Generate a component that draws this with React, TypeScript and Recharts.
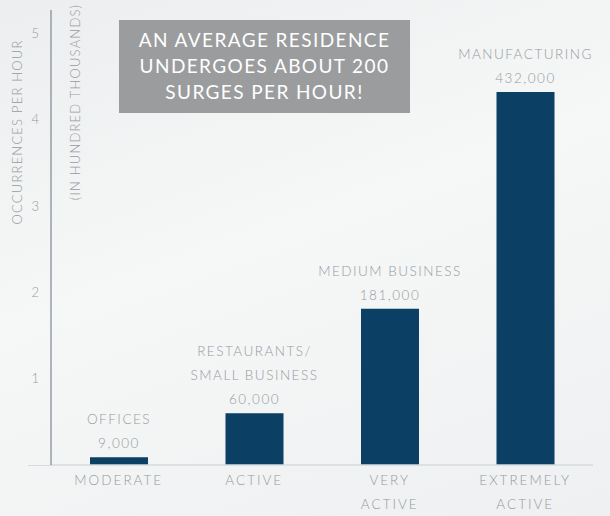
import { Bar, BarChart, LabelList, XAxis, YAxis } from "recharts";

const activityLevels = [["MODERATE"], ["ACTIVE"], ["VERY", "ACTIVE"], ["EXTREMELY", "ACTIVE"]];
const businessTypes = [["OFFICES"], ["RESTAURANTS/", "SMALL BUSINESS"], ["MEDIUM BUSINESS"], ["MANUFACTURING"]];
// occurrences per hour, in hundred thousands
const surgeValues = [0.09, 0.6, 1.81, 4.32];
const surgeLabels = ["9,000", "60,000", "181,000", "432,000"];
const yTicks = [1, 2, 3, 4, 5];
const calloutLines = ["AN AVERAGE RESIDENCE", "UNDERGOES ABOUT 200", "SURGES PER HOUR!"];

const data = activityLevels.map((lines, i) => ({
  key: String(i),
  level: lines,
  business: businessTypes[i],
  value: surgeValues[i],
  label: surgeLabels[i],
}));

const GREY = "#959ba1";
const NAVY = "#0b3f63";
const FONT = "Lato, 'Open Sans', sans-serif";

function LevelTick(props: any) {
  const { x, y, payload } = props;
  const lines = data[payload.index]?.level ?? [];
  return (
    <g>
      {lines.map((line: string, i: number) => (
        <text key={i} x={x} y={y + 12 + i * 24} textAnchor="middle" fill={GREY} fontSize={13.5} fontFamily={FONT} fontWeight={300} letterSpacing={2}>
          {line}
        </text>
      ))}
    </g>
  );
}

function BarTopLabel(props: any) {
  const { x, y, width, index } = props;
  const row = data[index];
  const cx = x + width / 2;
  const lines = [...row.business, row.label];
  return (
    <g>
      {lines.map((line, i) => (
        <text
          key={i}
          x={cx}
          y={y - 9 - (lines.length - 1 - i) * 24}
          textAnchor="middle"
          fill={GREY}
          fontSize={13.5}
          fontFamily={FONT}
          fontWeight={300}
          letterSpacing={1.5}
        >
          {line}
        </text>
      ))}
    </g>
  );
}

function AxisTitles(props: any) {
  const { viewBox } = props;
  const top = viewBox.y;
  return (
    <g fontFamily={FONT} fontWeight={300} fontSize={13} fill={GREY} letterSpacing={1.2}>
      <text x={17} y={top + 122} textAnchor="middle" dominantBaseline="central" transform={`rotate(-90 17 ${top + 122})`}>
        OCCURRENCES PER HOUR
      </text>
      <text x={75} y={top + 92} textAnchor="middle" dominantBaseline="central" transform={`rotate(-90 75 ${top + 92})`}>
        (IN HUNDRED THOUSANDS)
      </text>
    </g>
  );
}

export default function App() {
  return (
    <div
      style={{
        position: "absolute",
        left: 0,
        top: 0,
        width: 610,
        height: 516,
        background: "linear-gradient(160deg, #eceeef 0%, #f6f7f7 45%, #eef0f1 100%)",
        overflow: "hidden",
      }}
    >
      <div style={{ position: "absolute", left: 28, top: 465, width: 24, height: 1, background: "#d6dbdf" }} />
      <BarChart width={610} height={516} data={data} margin={{ top: 10, right: 17, bottom: 0, left: 0 }}>
        <XAxis
          dataKey="key"
          height={51}
          tickLine={false}
          axisLine={{ stroke: "#d6dbdf", strokeWidth: 1.5 }}
          tick={<LevelTick />}
          interval={0}
        />
        <YAxis
          width={51}
          domain={[0, 5.27]}
          ticks={yTicks}
          tickLine={false}
          axisLine={{ stroke: "#7e8891", strokeWidth: 1.2 }}
          tick={{ fill: GREY, fontSize: 13, fontFamily: FONT, fontWeight: 300 }}
          tickMargin={6}
          label={<AxisTitles />}
        />
        <Bar dataKey="value" fill={NAVY} barSize={58} isAnimationActive={false}>
          <LabelList dataKey="label" content={<BarTopLabel />} />
        </Bar>
      </BarChart>
      <div
        style={{
          position: "absolute",
          left: 119,
          top: 20,
          width: 291,
          height: 93,
          background: "#9b9c9e",
          color: "#ffffff",
          fontFamily: FONT,
          fontSize: 19,
          letterSpacing: 1.4,
          lineHeight: "26px",
          textAlign: "center",
          paddingTop: 7,
          boxSizing: "border-box",
          whiteSpace: "nowrap",
        }}
      >
        {calloutLines.map((line) => (
          <div key={line}>{line}</div>
        ))}
      </div>
    </div>
  );
}
